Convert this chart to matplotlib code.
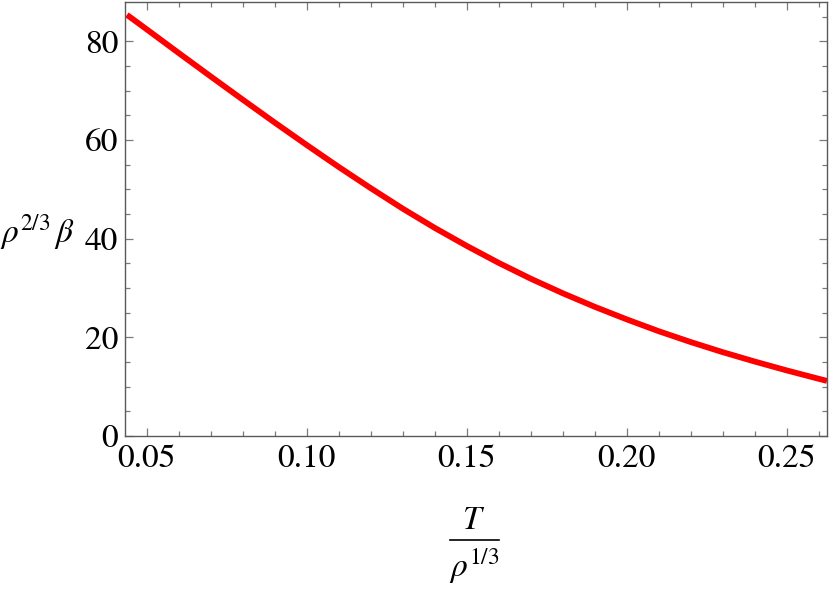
import matplotlib
matplotlib.use("Agg")
import matplotlib.pyplot as plt
from matplotlib.lines import Line2D
from matplotlib.ticker import MultipleLocator

plt.rcParams['font.family'] = ['STIXGeneral', 'Liberation Serif', 'DejaVu Serif']
plt.rcParams['mathtext.fontset'] = 'stix'

# data
t_rho = [0.0438, 0.05, 0.06, 0.07, 0.08, 0.09, 0.10, 0.11, 0.12, 0.13, 0.14,
         0.15, 0.16, 0.17, 0.18, 0.19, 0.20, 0.21, 0.22, 0.23, 0.24, 0.25,
         0.26, 0.2626]
beta_rho = [85.4, 82.45, 77.65, 72.9, 68.2, 63.55, 59.0, 54.55, 50.25, 46.1,
            42.2, 38.55, 35.1, 31.9, 28.95, 26.2, 23.65, 21.25, 19.05, 17.0,
            15.1, 13.3, 11.6, 11.17]
x_ticks = [0.05, 0.10, 0.15, 0.20, 0.25]
x_tick_labels = ["0.05", "0.10", "0.15", "0.20", "0.25"]
y_ticks = [0, 20, 40, 60, 80]
y_tick_labels = ["0", "20", "40", "60", "80"]

W, H = 830, 591
fig = plt.figure(figsize=(W / 100, H / 100), dpi=100)
ax = fig.add_axes([125 / W, 1 - 436 / H, (827 - 125) / W, (436 - 2) / H])

ax.plot(t_rho, beta_rho, color='#ff0000', lw=4.2, solid_capstyle='butt',
        solid_joinstyle='round')

ax.set_xlim(0.0432, 0.2626)
ax.set_ylim(0, 88.0)

ax.set_xticks(x_ticks)
ax.set_xticklabels(x_tick_labels)
ax.set_yticks(y_ticks)
ax.set_yticklabels(y_tick_labels)
ax.xaxis.set_minor_locator(MultipleLocator(0.01))
ax.yaxis.set_minor_locator(MultipleLocator(5))

frame_col = '#5a5a5a'
for s in ax.spines.values():
    s.set_color(frame_col)
    s.set_linewidth(1.0)
ax.tick_params(which='both', direction='in', top=True, right=True,
               color='#7a7a7a', width=0.9, labelsize=24, labelcolor='black')
ax.tick_params(which='major', length=6)
ax.tick_params(which='minor', length=3.3)
ax.tick_params(axis='x', which='major', pad=6)
ax.tick_params(axis='y', which='major', pad=5)

# y label (horizontal)
fig.text(0 / W, 1 - 232 / H, r'$\rho^{2/3}\,\beta$', fontsize=24,
         ha='left', va='center')

# x label as stacked fraction
cx = 474 / W
fig.text(cx, 1 - 521 / H, r'$T$', fontsize=24, ha='center', va='center')
fig.add_artist(Line2D([450 / W, 499 / W], [1 - 540 / H, 1 - 540 / H],
                      color='black', lw=1.2, transform=fig.transFigure))
fig.text(cx, 1 - 566 / H, r'$\rho^{1/3}$', fontsize=24, ha='center', va='center')

fig.savefig('out.png', dpi=100)
